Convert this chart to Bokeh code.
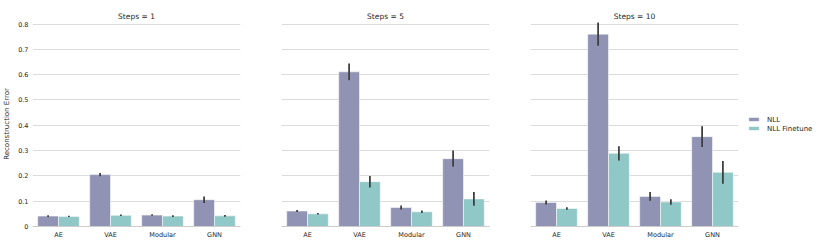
from bokeh.plotting import figure
from bokeh.layouts import row
from bokeh.models import ColumnDataSource, Range1d, FactorRange, Legend, LegendItem, FixedTicker, Title
from bokeh.transform import dodge
from bokeh.embed import file_html
from bokeh.resources import INLINE

categories = ["AE", "VAE", "Modular", "GNN"]
steps = ["Steps = 1", "Steps = 5", "Steps = 10"]
series = ["NLL", "NLL Finetune"]

nll_1 = [0.041, 0.205, 0.045, 0.106]
nll_1_err = [0.003, 0.006, 0.003, 0.013]
ft_1 = [0.040, 0.044, 0.041, 0.042]
ft_1_err = [0.002, 0.003, 0.003, 0.003]

nll_5 = [0.061, 0.611, 0.075, 0.268]
nll_5_err = [0.004, 0.033, 0.008, 0.032]
ft_5 = [0.050, 0.177, 0.058, 0.109]
ft_5_err = [0.003, 0.023, 0.005, 0.027]

nll_10 = [0.095, 0.760, 0.119, 0.355]
nll_10_err = [0.008, 0.046, 0.017, 0.041]
ft_10 = [0.071, 0.289, 0.097, 0.214]
ft_10_err = [0.005, 0.028, 0.011, 0.045]

y_ticks = [0.0, 0.1, 0.2, 0.3, 0.4, 0.5, 0.6, 0.7, 0.8]

panels = [
    (nll_1, nll_1_err, ft_1, ft_1_err),
    (nll_5, nll_5_err, ft_5, ft_5_err),
    (nll_10, nll_10_err, ft_10, ft_10_err),
]

NLL_COLOR = "#9193b4"
FT_COLOR = "#8fc8c6"
TEXT = "#262626"
FONT = "DejaVu Sans"

figs = []
for i, (nm, ne, fm, fe) in enumerate(panels):
    left = 31 if i == 0 else 21
    right = 78 if i == 2 else 20
    p = figure(x_range=FactorRange(*categories, range_padding=0), y_range=Range1d(0, 0.81),
               frame_width=208, frame_height=205,
               min_border_left=left, min_border_right=right, min_border_top=21, min_border_bottom=18,
               output_backend="svg", toolbar_location=None)
    p.title = Title(text=steps[i], align="center", text_font=FONT, text_font_size="7.5px",
                    text_font_style="normal", text_color=TEXT, standoff=2, offset=0)
    src = ColumnDataSource(dict(
        cat=categories, nll=nm, ft=fm,
        nll_lo=[m - e for m, e in zip(nm, ne)], nll_hi=[m + e for m, e in zip(nm, ne)],
        ft_lo=[m - e for m, e in zip(fm, fe)], ft_hi=[m + e for m, e in zip(fm, fe)],
    ))
    r1 = p.vbar(x=dodge("cat", -0.2, range=p.x_range), top="nll", width=0.4, source=src,
                fill_color=NLL_COLOR, line_color="white", line_alpha=0.5, line_width=1)
    r2 = p.vbar(x=dodge("cat", 0.2, range=p.x_range), top="ft", width=0.4, source=src,
                fill_color=FT_COLOR, line_color="white", line_alpha=0.5, line_width=1)
    p.segment(x0=dodge("cat", -0.2, range=p.x_range), x1=dodge("cat", -0.2, range=p.x_range),
              y0="nll_lo", y1="nll_hi", source=src, line_color="#404040", line_width=1.8)
    p.segment(x0=dodge("cat", 0.2, range=p.x_range), x1=dodge("cat", 0.2, range=p.x_range),
              y0="ft_lo", y1="ft_hi", source=src, line_color="#404040", line_width=1.8)

    p.outline_line_color = None
    p.xgrid.grid_line_color = None
    p.ygrid.grid_line_color = "#dcdcdc"
    p.ygrid.grid_line_width = 1
    p.yaxis.ticker = FixedTicker(ticks=y_ticks)
    for ax in (p.xaxis[0], p.yaxis[0]):
        ax.major_tick_line_color = None
        ax.minor_tick_line_color = None
        ax.major_tick_out = 0
        ax.major_tick_in = 0
        ax.minor_tick_out = 0
        ax.minor_tick_in = 0
        ax.major_label_text_font = FONT
        ax.major_label_text_font_size = "6.5px"
        ax.major_label_text_color = TEXT
    p.yaxis.axis_line_color = None
    p.xaxis.axis_line_color = "#cccccc"
    p.xaxis.axis_line_width = 1
    p.xaxis.major_label_standoff = 4
    p.yaxis.major_label_standoff = 4
    if i == 0:
        p.yaxis.axis_label = "Reconstruction Error"
        p.yaxis.axis_label_text_font = FONT
        p.yaxis.axis_label_text_font_size = "7px"
        p.yaxis.axis_label_text_font_style = "normal"
        p.yaxis.axis_label_text_color = TEXT
        p.yaxis.axis_label_standoff = 4
    else:
        p.yaxis.visible = False
    if i == 2:
        legend = Legend(items=[LegendItem(label=series[0], renderers=[r1]),
                               LegendItem(label=series[1], renderers=[r2])],
                        location="center_left", orientation="vertical",
                        label_text_font=FONT, label_text_font_size="7px", label_text_color=TEXT,
                        glyph_width=13, glyph_height=5, label_height=8, label_standoff=7,
                        spacing=1, padding=0, margin=9, border_line_color=None,
                        background_fill_alpha=0)
        p.add_layout(legend, "right")
    figs.append(p)

layout = row(*figs, spacing=0)
open("out.html", "w").write(file_html(layout, INLINE))
